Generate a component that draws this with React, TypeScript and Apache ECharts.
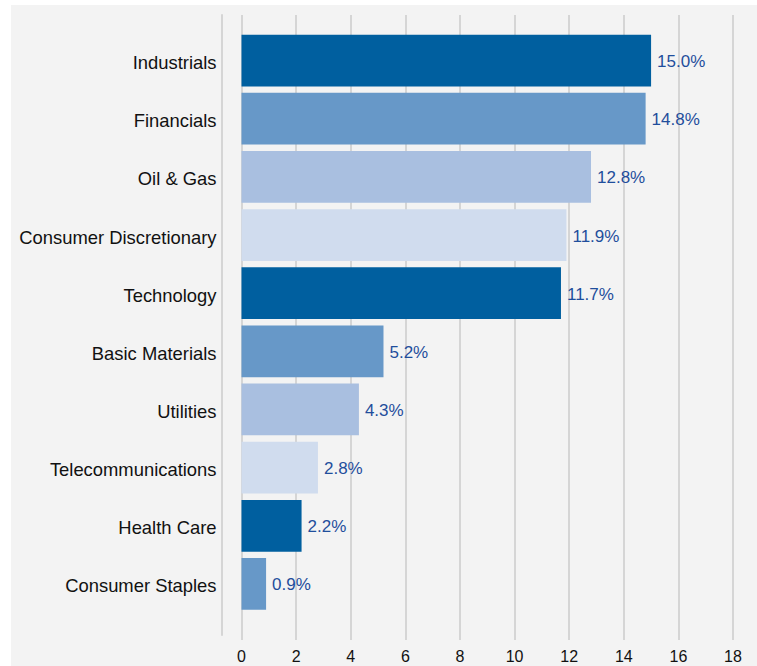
import React, { useEffect, useRef } from "react";
import * as echarts from "echarts";

const categories = [
  "Industrials",
  "Financials",
  "Oil & Gas",
  "Consumer Discretionary",
  "Technology",
  "Basic Materials",
  "Utilities",
  "Telecommunications",
  "Health Care",
  "Consumer Staples",
];
const values = [15.0, 14.8, 12.8, 11.9, 11.7, 5.2, 4.3, 2.8, 2.2, 0.9];
const palette = ["#005f9f", "#6798c8", "#a9bfe0", "#d0dcee"];
const xMin = 0;
const xMax = 18;
const xInterval = 2;

const FONT = "'Liberation Sans', Arial, Helvetica, sans-serif";
const GRID_COLOR = "#d5d5d5";

export default function App() {
  const ref = useRef<HTMLDivElement>(null);
  useEffect(() => {
    if (!ref.current) return;
    const chart = echarts.init(ref.current, undefined, { renderer: "svg" });
    chart.setOption({
      animation: false,
      backgroundColor: "#f3f3f3",
      textStyle: { fontFamily: FONT },
      grid: [
        { left: 230.5, right: 24, top: 26.5, height: 581.5 },
        { left: 230.5, right: 24, top: 10, height: 625 },
        { left: 230.5, right: 24, top: 10, height: 620 },
      ],
      xAxis: [
        { type: "value", gridIndex: 0, min: xMin, max: xMax, interval: xInterval, show: false },
        {
          type: "value",
          gridIndex: 1,
          min: xMin,
          max: xMax,
          interval: xInterval,
          axisLine: { show: false },
          axisTick: { show: false },
          splitLine: { show: true, lineStyle: { color: GRID_COLOR, width: 2 } },
          axisLabel: { color: "#111", fontSize: 16, margin: 8, fontFamily: FONT },
        },
        { type: "value", gridIndex: 2, min: xMin, max: xMax, show: false },
      ],
      yAxis: [
        {
          type: "category",
          gridIndex: 0,
          inverse: true,
          data: categories,
          axisLine: { show: false },
          axisTick: { show: false },
          splitLine: { show: false },
          axisLabel: {
            color: "#111",
            fontSize: 18.4,
            margin: 25,
            fontFamily: FONT,
            formatter: "{a|{value}}",
            rich: { a: { fontSize: 18.4, fontFamily: FONT, color: "#111", padding: [4, 0, 0, 0] } },
          },
        },
        {
          type: "value",
          gridIndex: 1,
          min: 0,
          max: 1,
          show: false,
        },
        {
          type: "value",
          gridIndex: 2,
          position: "left",
          offset: 19.5,
          min: 0,
          max: 1,
          axisLine: { show: true, onZero: false, lineStyle: { color: GRID_COLOR, width: 2 } },
          axisTick: { show: false },
          axisLabel: { show: false },
          splitLine: { show: false },
        },
      ],
      series: [
        {
          type: "bar",
          xAxisIndex: 0,
          yAxisIndex: 0,
          barCategoryGap: "11%",
          data: values.map((v, i) => ({
            value: v,
            itemStyle: { color: palette[i % palette.length] },
          })),
          label: {
            show: true,
            position: "right",
            distance: 6,
            offset: [0, 1],
            color: "#1f4e9c",
            fontSize: 17,
            fontFamily: FONT,
            formatter: (p: any) => Number(p.value).toFixed(1) + "%",
          },
        },
      ],
    });
    return () => chart.dispose();
  }, []);
  return (
    <div
      ref={ref}
      style={{ position: "fixed", left: 11, top: 5, width: 746, height: 661 }}
    />
  );
}
